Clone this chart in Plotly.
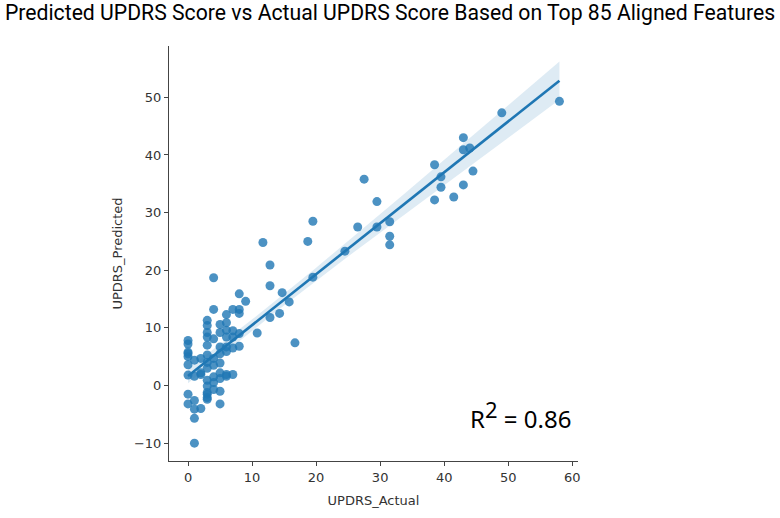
import numpy as np
import plotly.graph_objects as go

# UPDRS values
updrs_actual = [
    58, 49, 43, 43, 44, 44.5, 43, 41.5, 38.5, 39.5, 39.5, 38.5,
    27.5, 29.5, 31.5, 29.5, 26.5, 31.5, 31.5, 24.5, 19.5, 18.7, 19.5,
    11.7, 12.8, 12.8, 14.7, 15.8, 14.3, 12.8, 10.8, 16.7,
    0, 0, 0, 0, 0, 0, 0, 0, 0,
    1, 1, 1, 1, 1, 1,
    2, 2, 2, 2,
    3, 3, 3, 3, 3, 3, 3, 3, 3, 3, 3, 3, 3, 3,
    4, 4, 4, 4, 4, 4, 4, 4,
    5, 5, 5, 5, 5, 5, 5, 5, 5,
    6, 6, 6, 6, 6, 6, 6, 6,
    7, 7, 7, 7, 7,
    8, 8, 8, 8, 8,
    9,
]
updrs_predicted = [
    49.3, 47.3, 43.0, 40.9, 41.2, 37.2, 34.8, 32.7, 38.3, 36.2, 34.4, 32.2,
    35.8, 31.9, 28.4, 27.5, 27.5, 25.9, 24.4, 23.3, 28.5, 25.0, 18.8,
    24.8, 20.9, 17.3, 16.1, 14.5, 12.5, 11.8, 9.1, 7.4,
    7.8, 7.2, 5.8, 5.0, 3.6, 1.8, -1.5, -3.2, 5.5,
    4.4, 1.6, -2.6, -4.1, -5.7, -10.0,
    4.7, 1.9, 2.2, -4.0,
    11.3, 10.4, 9.2, 8.4, 7.0, 5.3, 0.9, -0.1, -1.5, -2.4, -2.1, -1.2, 3.0, 4.0,
    18.7, 13.2, 8.1, 4.7, 0.5, -0.7, 3.5, 1.5,
    10.6, 9.2, 6.7, 3.9, 2.2, -1.0, -3.2, 5.5, 1.2,
    12.3, 9.6, 6.7, 1.9, 8.4, 5.9, 1.6, 10.9,
    8.4, 1.9, 13.2, 9.5, 6.5,
    15.9, 6.8, 13.2, 9.0, 12.5,
    14.6,
]
r_squared = 0.86

x = np.array(updrs_actual, dtype=float)
y = np.array(updrs_predicted, dtype=float)

# linear fit with 95% confidence band (like seaborn regplot)
slope, intercept = np.polyfit(x, y, 1)
grid = np.linspace(x.min(), x.max(), 100)
fit = intercept + slope * grid
resid = y - (intercept + slope * x)
n = len(x)
s = np.sqrt(np.sum(resid ** 2) / (n - 2))
se = s * np.sqrt(1 / n + (grid - x.mean()) ** 2 / np.sum((x - x.mean()) ** 2))
upper = fit + 1.96 * se
lower = fit - 1.96 * se

blue = "#1f77b4"
fig = go.Figure()

fig.add_trace(go.Scatter(
    x=np.concatenate([grid, grid[::-1]]), y=np.concatenate([upper, lower[::-1]]),
    fill="toself", fillcolor="rgba(31,119,180,0.15)", line=dict(width=0),
    hoverinfo="skip", showlegend=False,
))
fig.add_trace(go.Scatter(
    x=x, y=y, mode="markers",
    marker=dict(size=9, color=blue, opacity=0.8, line=dict(width=0)),
    showlegend=False,
))
fig.add_trace(go.Scatter(
    x=grid, y=fit, mode="lines", line=dict(color=blue, width=2.6), showlegend=False,
))

axis_style = dict(
    showgrid=False, zeroline=False, showline=True, linecolor="#444", linewidth=1,
    ticks="outside", ticklen=4, tickcolor="#444",
    tickfont=dict(family="DejaVu Sans", size=13, color="#333"),
    title_font=dict(family="DejaVu Sans", size=13, color="#333"),
)

fig.update_layout(
    width=780, height=518,
    margin=dict(l=169, r=202, t=46, b=48),
    paper_bgcolor="white", plot_bgcolor="white",
    title=dict(
        text="Predicted UPDRS Score vs Actual UPDRS Score Based on Top 85 Aligned Features",
        x=0.5, xanchor="center", y=0.975, yanchor="middle",
        font=dict(family="Roboto", size=21.2, color="#000"),
    ),
    xaxis=dict(range=[-2.97, 60.9], tickvals=[0, 10, 20, 30, 40, 50, 60],
               title=dict(text="UPDRS_Actual", standoff=12), **axis_style),
    yaxis=dict(range=[-13.1, 58.9], tickvals=[-10, 0, 10, 20, 30, 40, 50],
               title=dict(text="UPDRS_Predicted", standoff=8), **axis_style),
    annotations=[dict(
        text=f"R<sup><span style='font-size:22px'>2</span></sup> = {r_squared}",
        x=0.731, y=0.113, xref="paper", yref="paper",
        xanchor="left", yanchor="middle", showarrow=False,
        font=dict(family="Noto Sans", size=24, color="#000"),
    )],
)

# drop the default page margin so the figure sits at the window's corner
fig.write_html(
    "out.html",
    config={"displayModeBar": False},
    post_script="document.body.style.margin = '0';",
)
